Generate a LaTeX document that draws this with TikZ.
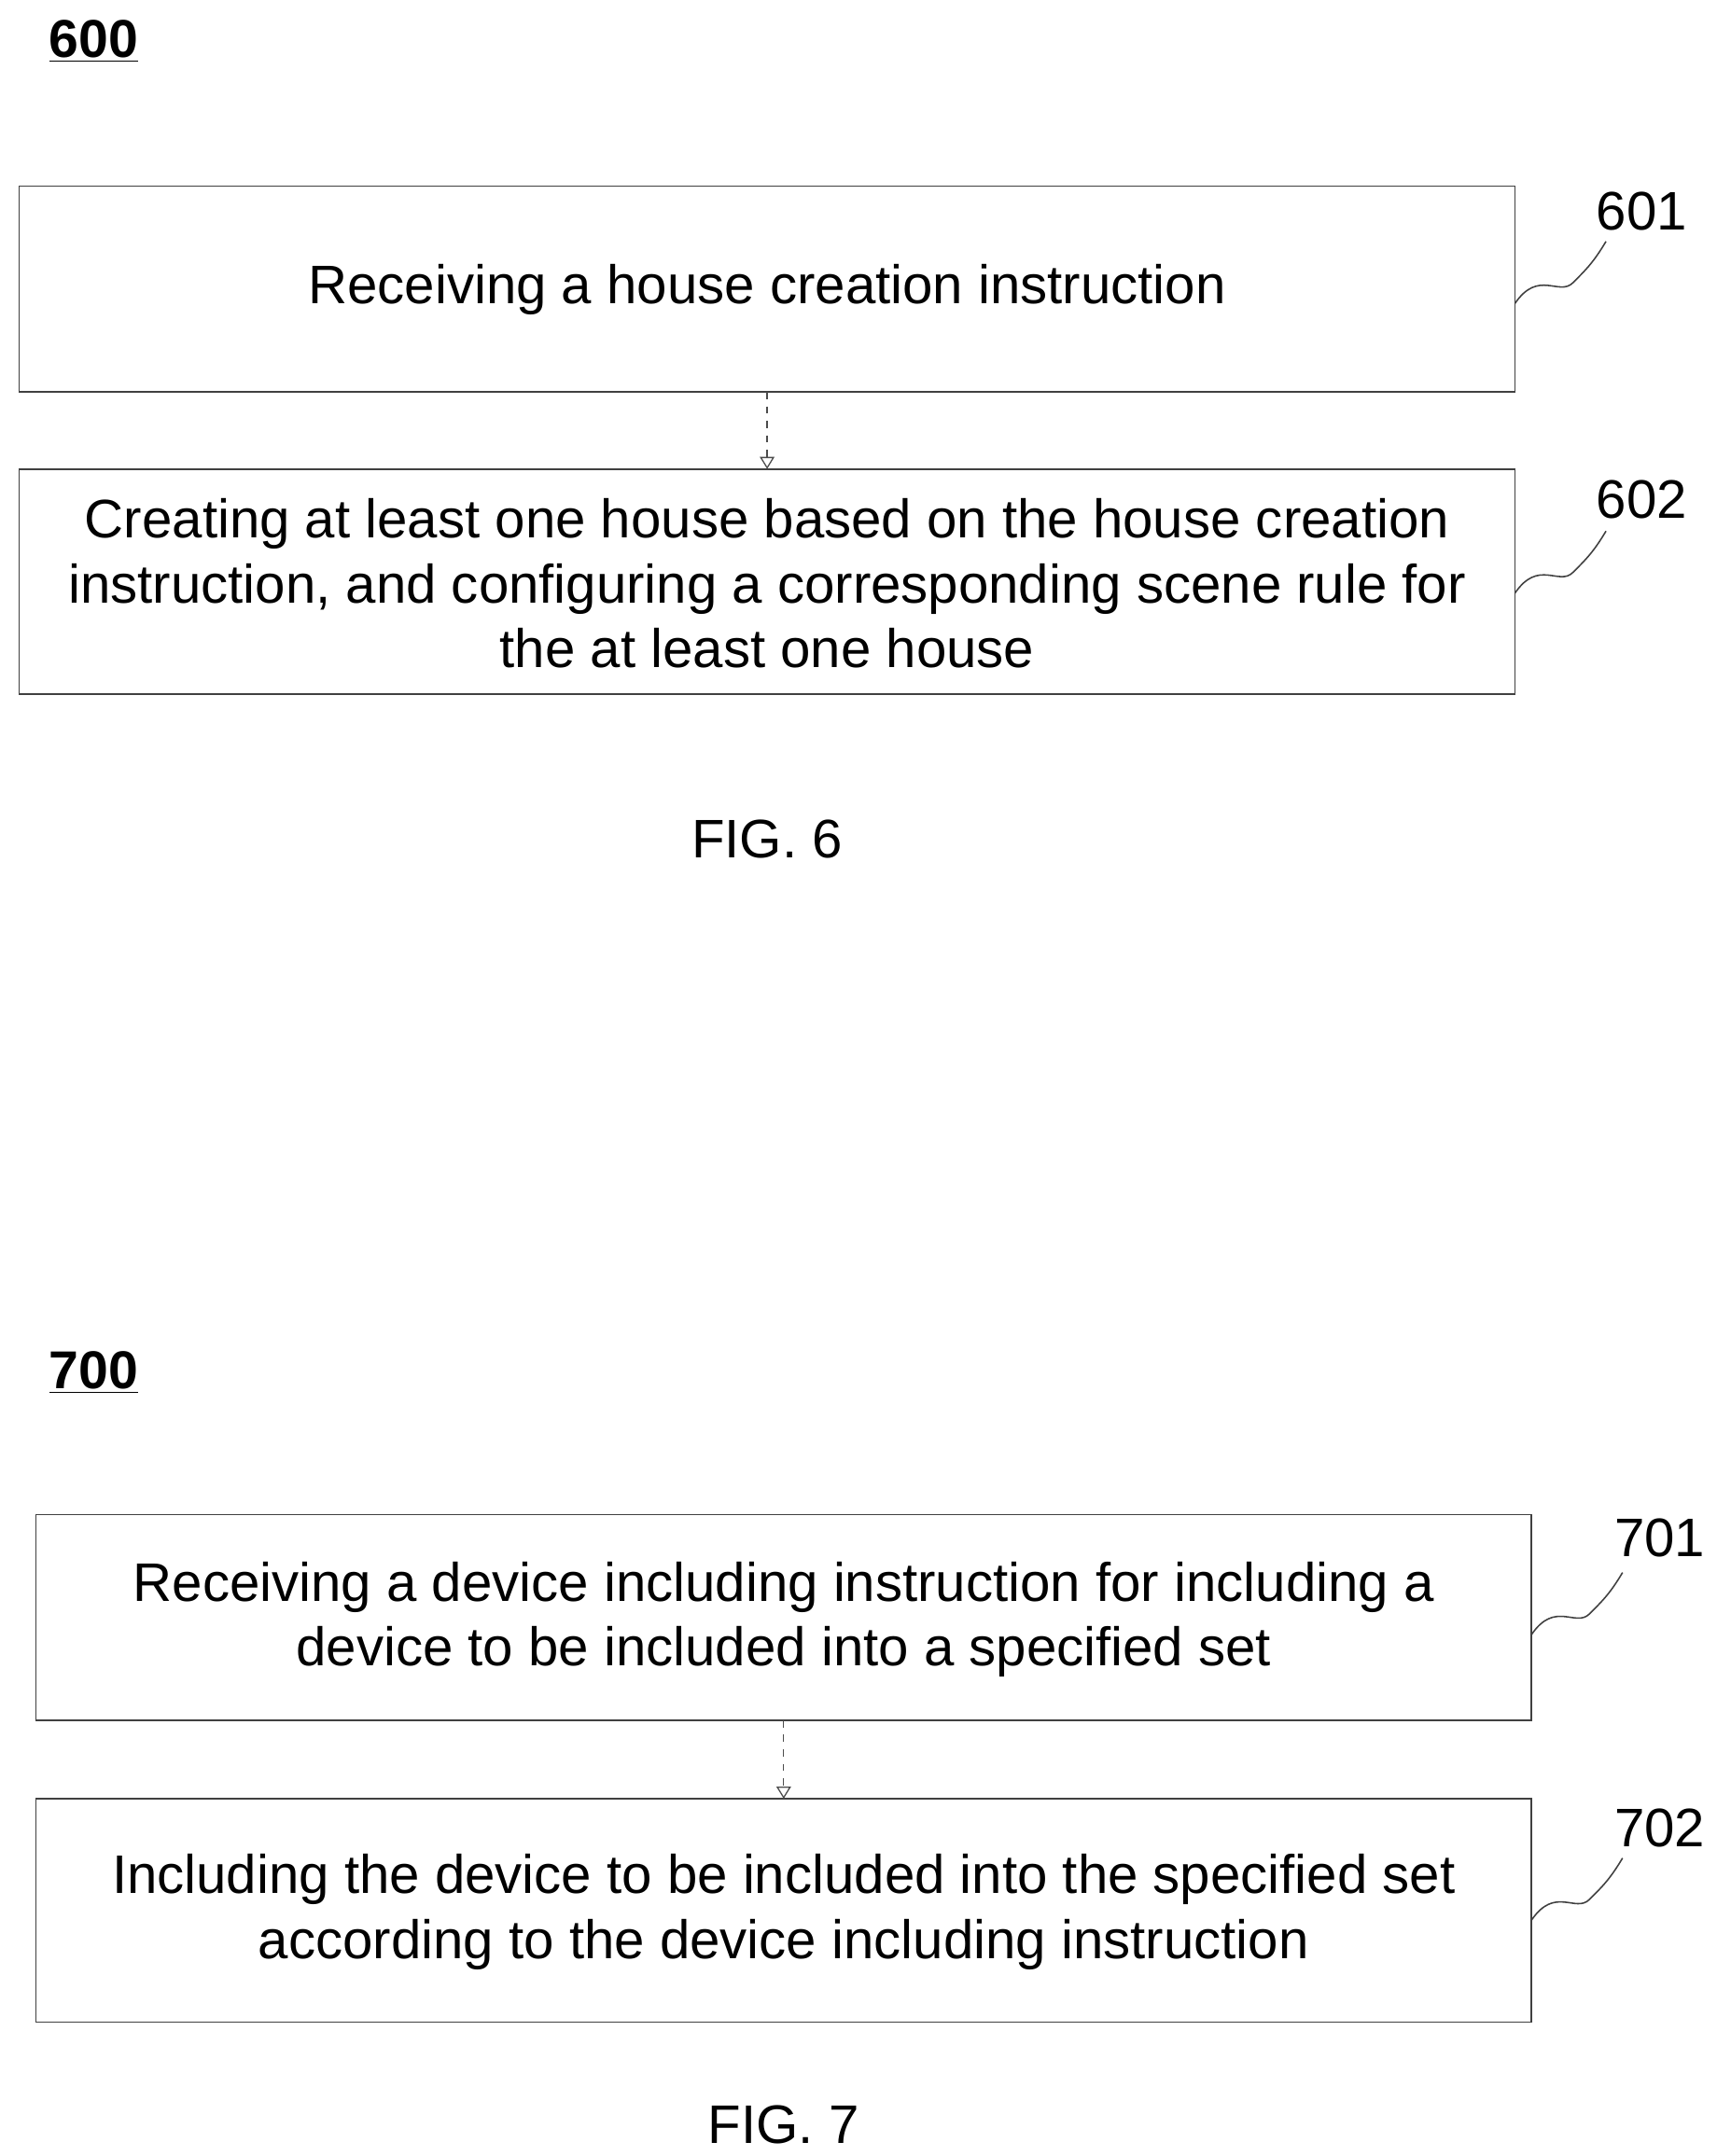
\documentclass[tikz,border=0pt]{standalone}
\usepackage{fontspec}
\setmainfont{Liberation Sans}
\usetikzlibrary{arrows.meta}
\tikzset{
  stepbox/.style={draw=black!75, line width=0.6pt, inner sep=0pt},
  steptext/.style={align=center, font=\fontsize{22.4}{26.7}\selectfont},
  squig/.style={draw=black!75, line width=0.6pt},
  flowarrow/.style={draw=black!70, dashed, line width=0.5pt, -{Triangle[open,length=5pt,width=6pt]}}
}
\begin{document}
\begin{tikzpicture}[x=0.02cm,y=-0.02cm]
        \useasboundingbox (0,0) rectangle (1244,1563);
        % FIG. 6
        \node[font=\fontsize{22}{24}\selectfont\bfseries] (f6) at (68,30) {\underline{600}};
        \draw[stepbox] (14,135) rectangle (1098,284);
        \draw[stepbox] (14,340) rectangle (1098,503);
        \coordinate (b601s) at (556,284);
        \coordinate (b602n) at (556,340);
        \node[steptext] (t601) at (556,210) {Receiving a house creation instruction};
        \node[steptext] (t602) at (556,423) {Creating at least one house based on the house creation\\instruction, and configuring a corresponding scene rule for\\the at least one house};
        \draw[flowarrow] (b601s) -- (b602n);
        \node[steptext] (l601) at (1190,153) {601};
        \node[steptext] (l602) at (1190,362) {602};
        \coordinate (e601) at (1098,220);
        \coordinate (e602) at (1098,430);
        \draw[squig] (e601) .. controls (1115,195) and (1130,215) .. (1140,205) .. controls (1150,195) and (1155,190) .. (1164,175);
        \draw[squig] (e602) .. controls (1115,405) and (1130,425) .. (1140,415) .. controls (1150,405) and (1155,400) .. (1164,385);
        \node[steptext] (c6) at (556,608) {FIG. 6};
        % FIG. 7
        \node[font=\fontsize{22}{24}\selectfont\bfseries] (f7) at (68,995) {\underline{700}};
        \draw[stepbox] (26,1098) rectangle (1110,1247);
        \draw[stepbox] (26,1304) rectangle (1110,1466);
        \coordinate (b701s) at (568,1247);
        \coordinate (b702n) at (568,1304);
        \node[steptext] (t701) at (568,1174) {Receiving a device including instruction for including a\\device to be included into a specified set};
        \node[steptext] (t702) at (568,1386) {Including the device to be included into the specified set\\according to the device including instruction};
        \draw[flowarrow] (b701s) -- (b702n);
        \node[steptext] (l701) at (1203,1115) {701};
        \node[steptext] (l702) at (1203,1325) {702};
        \coordinate (e701) at (1110,1185);
        \coordinate (e702) at (1110,1392);
        \draw[squig] (e701) .. controls (1127,1160) and (1142,1180) .. (1152,1170) .. controls (1162,1160) and (1167,1155) .. (1176,1140);
        \draw[squig] (e702) .. controls (1127,1367) and (1142,1387) .. (1152,1377) .. controls (1162,1367) and (1167,1362) .. (1176,1347);
        \node[steptext] (c7) at (568,1540) {FIG. 7};
\end{tikzpicture}
\end{document}
